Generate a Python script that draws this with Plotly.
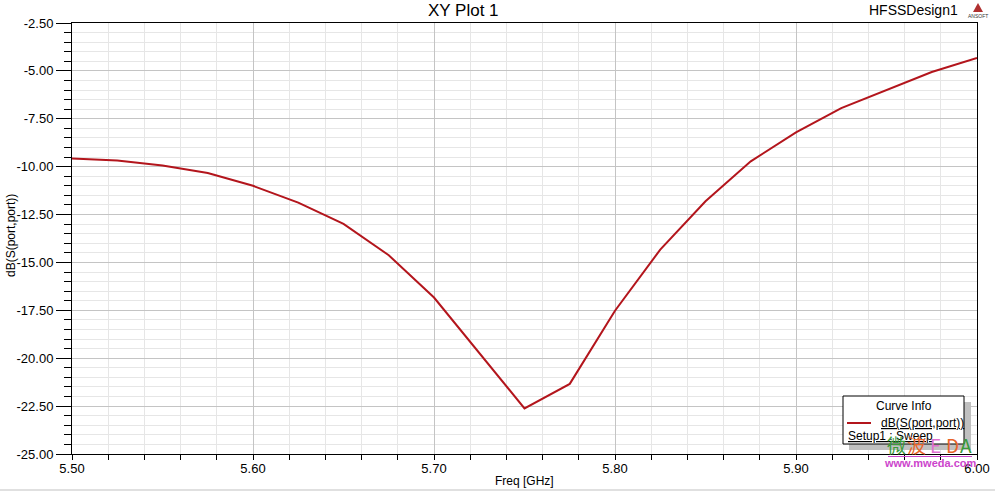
import plotly.graph_objects as go

freq_ghz = [5.500, 5.525, 5.550, 5.575, 5.600, 5.625, 5.650, 5.675, 5.700, 5.725,
            5.750, 5.775, 5.800, 5.825, 5.850, 5.875, 5.900, 5.925, 5.950, 5.975, 6.000]
s11_db = [-9.57, -9.68, -9.94, -10.33, -11.00, -11.88, -12.99, -14.62, -16.83, -19.70,
          -22.62, -21.34, -17.52, -14.33, -11.81, -9.72, -8.21, -6.94, -5.98, -5.06, -4.33]
series_name = "dB(S(port,port))"
setup_name = "Setup1 : Sweep"
y_ticks = [-25.0, -22.5, -20.0, -17.5, -15.0, -12.5, -10.0, -7.5, -5.0, -2.5]
x_ticks = [5.5, 5.6, 5.7, 5.8, 5.9, 6.0]

W, H = 995, 493
L, R, T, B = 72, 18, 23, 39
PW, PH = W - L - R, H - T - B

def px(x):
    return (x - L) / PW

def py(y):
    return 1 - (y - T) / PH

FONT = "Liberation Sans, Arial, sans-serif"
RED = "#b3151c"

fig = go.Figure()
fig.add_trace(go.Scatter(x=freq_ghz, y=s11_db, mode="lines",
                         line=dict(color=RED, width=2), name=series_name,
                         showlegend=False))

fig.update_layout(
    width=W, height=H,
    margin=dict(l=L, r=R, t=T, b=B, autoexpand=False),
    paper_bgcolor="white", plot_bgcolor="white",
    font=dict(family=FONT, color="#000", size=13),
    xaxis=dict(range=[5.5, 6.0], tickvals=x_ticks, ticktext=[f"{v:.2f}" for v in x_ticks],
               ticks="outside", ticklen=5, tickcolor="#000", tickwidth=1,
               showgrid=True, gridcolor="#c4c4c4", gridwidth=1,
               showline=True, linecolor="#000", linewidth=1, mirror=True,
               zeroline=False, automargin=False, ticklabelstandoff=-3,
               minor=dict(dtick=0.02, tick0=5.5, showgrid=True, gridcolor="#e6e6e6",
                          ticks="outside", ticklen=5, tickcolor="#000"),
               tickfont=dict(size=13)),
    yaxis=dict(range=[-25, -2.5], tickvals=y_ticks, ticktext=[f"{v:.2f}" for v in y_ticks],
               ticks="outside", ticklen=15, tickcolor="#000", tickwidth=1,
               showgrid=True, gridcolor="#c4c4c4", gridwidth=1,
               showline=True, linecolor="#000", linewidth=1, mirror=True,
               zeroline=False, automargin=False,
               minor=dict(dtick=0.5, tick0=-25, showgrid=True, gridcolor="#e6e6e6",
                          ticks="outside", ticklen=7, tickcolor="#000"),
               tickfont=dict(size=13)),
)

ann = []
ann.append(dict(text="XY Plot 1", x=px(463), y=py(10), xref="paper", yref="paper",
                showarrow=False, font=dict(size=17), xanchor="center", yanchor="middle"))
ann.append(dict(text="HFSSDesign1", x=px(913), y=py(10), xref="paper", yref="paper",
                showarrow=False, font=dict(size=14), xanchor="center", yanchor="middle"))
ann.append(dict(text="ANSOFT", x=px(978), y=py(16), xref="paper", yref="paper",
                showarrow=False, font=dict(size=5, color="#333"), xanchor="center", yanchor="middle"))
ann.append(dict(text="Freq [GHz]", x=px(524), y=py(481), xref="paper", yref="paper",
                showarrow=False, font=dict(size=12), xanchor="center", yanchor="middle"))
ann.append(dict(text="dB(S(port,port))", x=px(11), y=py(236), xref="paper", yref="paper",
                showarrow=False, font=dict(size=12), textangle=-90, xanchor="center", yanchor="middle"))
# legend box text
ann.append(dict(text="Curve Info", x=px(904), y=py(406), xref="paper", yref="paper",
                showarrow=False, font=dict(size=12), xanchor="center", yanchor="middle"))
ann.append(dict(text="<u>" + series_name + "</u>", x=px(879), y=py(423), xref="paper", yref="paper",
                showarrow=False, font=dict(size=12), xanchor="left", yanchor="middle"))
ann.append(dict(text="<u>" + setup_name + "</u>", x=px(846), y=py(436), xref="paper", yref="paper",
                showarrow=False, font=dict(size=12), xanchor="left", yanchor="middle"))
# watermark
wm_chars = [("微", 896, "#3a9a3a"), ("波", 916, "#e8642a"), ("E", 935, "#e070d0"),
            ("D", 952, "#e8642a"), ("A", 966, "#3a9a3a")]
for ch, xx, col in wm_chars:
    ann.append(dict(text=ch, x=px(xx), y=py(444), xref="paper", yref="paper",
                    showarrow=False, font=dict(size=19, color=col,
                                               family="Noto Sans CJK SC, sans-serif"),
                    xanchor="center", yanchor="middle"))
ann.append(dict(text="<b>www.mweda.com</b>", x=px(930), y=py(463), xref="paper", yref="paper",
                showarrow=False, font=dict(size=11, color="#cc44cc"),
                xanchor="center", yanchor="middle"))
fig.update_layout(annotations=ann)

shapes = []
# legend shadow and box
shapes.append(dict(type="rect", xref="paper", yref="paper", x0=px(849), x1=px(971),
                   y0=py(402), y1=py(450), fillcolor="#c0c0c0", line=dict(width=0)))
shapes.append(dict(type="rect", xref="paper", yref="paper", x0=px(843), x1=px(964),
                   y0=py(396), y1=py(444), fillcolor="white", line=dict(color="#000", width=1)))
shapes.append(dict(type="line", xref="paper", yref="paper", x0=px(847), x1=px(871),
                   y0=py(423), y1=py(423), line=dict(color=RED, width=2)))
# watermark underline
shapes.append(dict(type="line", xref="paper", yref="paper", x0=px(888), x1=px(972),
                   y0=py(456.5), y1=py(456.5), line=dict(color="#cc44cc", width=1)))
# ansoft logo triangle
shapes.append(dict(type="path", xref="paper", yref="paper",
                   path=f"M {px(978)},{py(3)} L {px(973)},{py(12)} L {px(983)},{py(12)} Z",
                   fillcolor="#b03030", line=dict(width=0)))
# bottom frame line
shapes.append(dict(type="line", xref="paper", yref="paper", x0=px(0), x1=px(995),
                   y0=py(490), y1=py(490), line=dict(color="#e0e0e0", width=2)))
fig.update_layout(shapes=shapes)

fig.write_html("out.html", config={"displayModeBar": False},
               post_script="document.body.style.margin='0';")
